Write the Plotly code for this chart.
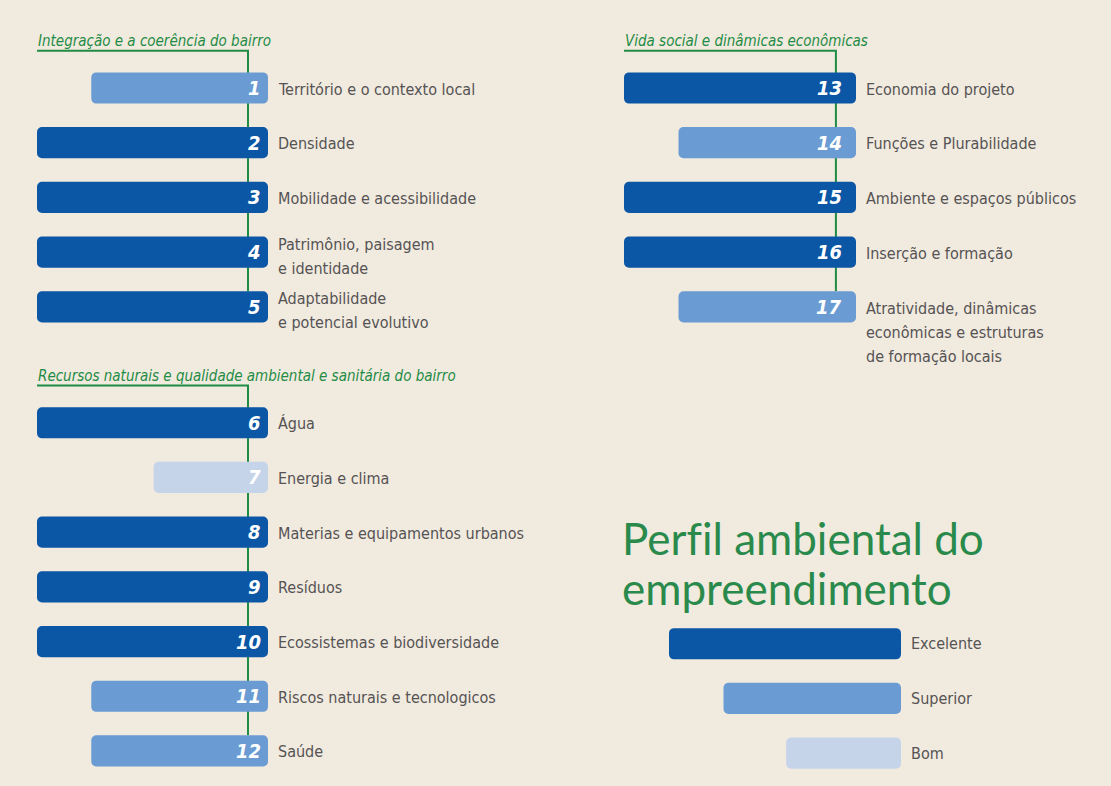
import plotly.graph_objects as go

# ---- data -------------------------------------------------------------
level_names = ["Excelente", "Superior", "Bom"]
level_lengths = [1.0, 0.765, 0.495]          # relative length of each rating bar
level_colors = ["#0b56a5", "#6a9bd3", "#c6d4ea"]

sections_left = [
    "Integração e a coerência do bairro",
    "Recursos naturais e qualidade ambiental e sanitária do bairro",
]
sections_right = ["Vida social e dinâmicas econômicas"]

# criteria of the left column: number, label, rating, section index
left_numbers = [1, 2, 3, 4, 5, 6, 7, 8, 9, 10, 11, 12]
left_labels = [
    "Território e o contexto local",
    "Densidade",
    "Mobilidade e acessibilidade",
    "Patrimônio, paisagem<br>e identidade",
    "Adaptabilidade<br>e potencial evolutivo",
    "Água",
    "Energia e clima",
    "Materias e equipamentos urbanos",
    "Resíduos",
    "Ecossistemas e biodiversidade",
    "Riscos naturais e tecnologicos",
    "Saúde",
]
left_levels = ["Superior", "Excelente", "Excelente", "Excelente", "Excelente",
               "Excelente", "Bom", "Excelente", "Excelente", "Excelente",
               "Superior", "Superior"]
left_section = [0, 0, 0, 0, 0, 1, 1, 1, 1, 1, 1, 1]

# criteria of the right column
right_numbers = [13, 14, 15, 16, 17]
right_labels = [
    "Economia do projeto",
    "Funções e Plurabilidade",
    "Ambiente e espaços públicos",
    "Inserção e formação",
    "Atratividade, dinâmicas<br>econômicas e estruturas<br>de formação locais",
]
right_levels = ["Excelente", "Superior", "Excelente", "Excelente", "Superior"]

# "f" + zero-width non-joiner + "il" keeps the f and i as separate glyphs
legend_title_lines = ["Perf\u200cil ambiental do", "empreendimento"]

# ---- layout constants -------------------------------------------------
W, H = 1111, 786
ROW_PX = 54.7          # vertical distance between rows
TOP_PX = 88            # centre of the first row
SECTION_GAP = 1.12     # extra rows between two sections
LEGEND_START = 10.16   # row of the first legend bar
BAR_W = 0.57
LINE_OFF = 20 / 231    # connector line sits this far left of the bar ends
LABEL_LINE_PX = 24     # line spacing of the criterion labels

BG = "#f1eadf"
GREEN = "#1f8c45"
TEXT = "#555353"
LABEL_FONT = "Liberation Sans Narrow, DejaVu Sans Condensed, Arial Narrow, sans-serif"

length_of = dict(zip(level_names, level_lengths))
color_of = dict(zip(level_names, level_colors))

# row positions of the left column (sections separated by a gap)
left_rows = [i + SECTION_GAP * s for i, s in enumerate(left_section)]
right_rows = [float(i) for i in range(len(right_numbers))]
legend_rows = [LEGEND_START + i for i in range(len(level_names))]

fig = go.Figure()


def add_bars(rows, levels, xaxis):
    fig.add_trace(go.Bar(
        orientation="h",
        y=rows,
        x=[length_of[l] for l in levels],
        base=0,
        width=BAR_W,
        marker=dict(color=[color_of[l] for l in levels], cornerradius=5,
                    line=dict(width=0)),
        xaxis=xaxis, yaxis="y",
        hoverinfo="skip",
        showlegend=False,
    ))


add_bars(left_rows, left_levels, "x")
add_bars(right_rows, right_levels, "x2")
add_bars(legend_rows, level_names, "x3")

annotations = []
shapes = []


def add_labels(rows, numbers, labels, xref, num_pad):
    for r, n, lab in zip(rows, numbers, labels):
        annotations.append(dict(
            x=0, y=r, xref=xref, yref="y", text=f"<b><i>{n}</i></b>",
            xanchor="right", yanchor="middle", xshift=-num_pad, showarrow=False,
            font=dict(family=LABEL_FONT, size=20, color="white"),
        ))
        lines = lab.split("<br>")
        n_lines = len(lines)
        # two-line labels sit around the bar centre, longer ones hang from it
        first = 1 if n_lines > 2 else -9 * (n_lines - 1)
        for k, text in enumerate(lines):
            annotations.append(dict(
                x=0, y=r, xref=xref, yref="y", text=text,
                xanchor="left", yanchor="middle",
                yshift=-(first + k * LABEL_LINE_PX) - 1,
                xshift=8, showarrow=False, align="left",
                font=dict(family=LABEL_FONT, size=16, color=TEXT),
            ))


def add_section(title, rows, xref):
    first, last = rows[0], rows[-1]
    annotations.append(dict(
        x=1.0, y=first - 0.86, xref=xref, yref="y", text=f"<i>{title}</i>",
        xanchor="left", yanchor="middle", xshift=-1, showarrow=False,
        font=dict(family=LABEL_FONT, size=15, color=GREEN),
    ))
    # bracket: underline of the title turning down along the bar ends
    shapes.append(dict(
        type="path", xref=xref, yref="y",
        path=(f"M 1.0 {first - 0.68} L {LINE_OFF} {first - 0.68} "
              f"L {LINE_OFF} {last - BAR_W / 2}"),
        line=dict(color=GREEN, width=2), layer="below",
    ))


add_labels(left_rows, left_numbers, left_labels, "x", 5)
add_labels(right_rows, right_numbers, right_labels, "x2", 12)
for s, title in enumerate(sections_left):
    rows = [r for r, sec in zip(left_rows, left_section) if sec == s]
    add_section(title, rows, "x")
add_section(sections_right[0], right_rows, "x2")

# legend
for r, name in zip(legend_rows, level_names):
    annotations.append(dict(
        x=0, y=r, xref="x3", yref="y", text=name,
        xanchor="left", yanchor="middle", xshift=8, showarrow=False,
        font=dict(family=LABEL_FONT, size=16, color=TEXT),
    ))
for i, line in enumerate(legend_title_lines):
    annotations.append(dict(
        x=620 / W, y=1 - (538 + 50 * i) / H, xref="paper", yref="paper",
        text=line, xanchor="left", yanchor="middle", showarrow=False,
        font=dict(family="Lato, Open Sans, sans-serif", size=44, color="#2a8a4c"),
    ))


def px_domain(left_px, right_px):
    return [left_px / W, right_px / W]


hidden = dict(visible=False, showgrid=False, zeroline=False, fixedrange=True)
y_bottom = (H - TOP_PX) / ROW_PX
y_top = -TOP_PX / ROW_PX

fig.update_layout(
    width=W, height=H, autosize=False,
    margin=dict(l=0, r=0, t=0, b=0, pad=0),
    paper_bgcolor=BG, plot_bgcolor="rgba(0,0,0,0)",
    barmode="overlay",
    xaxis=dict(hidden, domain=px_domain(37, 268), range=[1.0, 0], anchor="y"),
    xaxis2=dict(hidden, domain=px_domain(624, 856), range=[1.0, 0], anchor="y"),
    xaxis3=dict(hidden, domain=px_domain(669, 901), range=[1.0, 0], anchor="y"),
    yaxis=dict(hidden, domain=[0, 1], range=[y_bottom, y_top]),
    annotations=annotations,
    shapes=shapes,
)

fig.write_html("out.html")
